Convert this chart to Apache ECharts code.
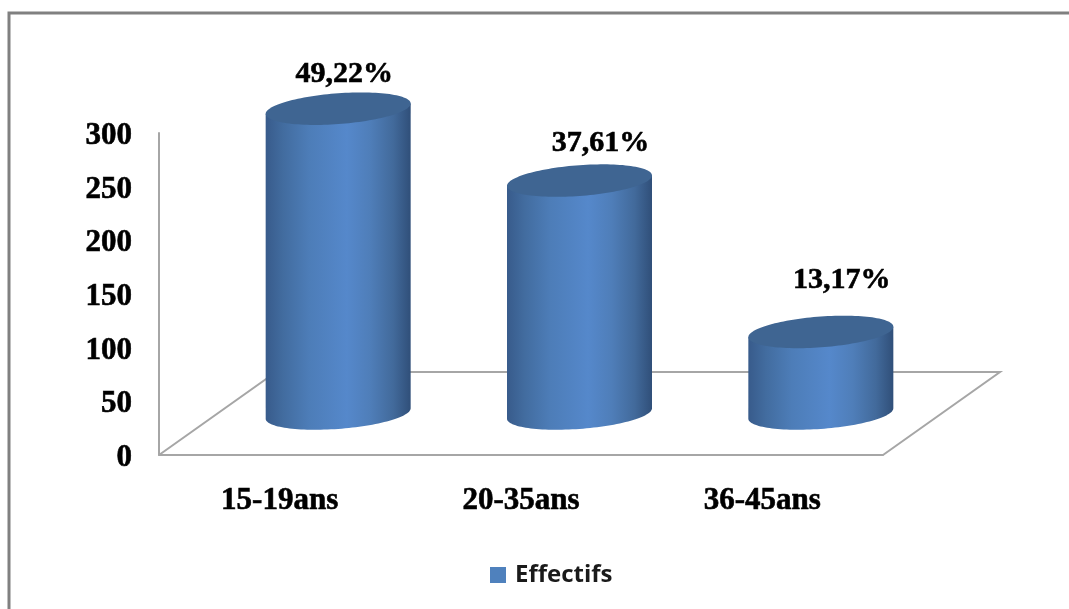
<!DOCTYPE html>
<html>
<head>
<meta charset="utf-8">
<style>html,body{margin:0;padding:0;background:#fff}#chart{width:1069px;height:609px}</style>
<script src="https://cdn.jsdelivr.net/npm/echarts@6/dist/echarts.min.js"></script>
</head>
<body>
<div id="chart"></div>
<script>
// Effectifs par tranche d'âge
const categories = ['15-19ans', '20-35ans', '36-45ans'];
const effectifs = [284, 217, 76];
const percentLabels = ['49,22%', '37,61%', '13,17%'];
const yTicks = { min: 0, max: 300, interval: 50 };

// Oblique projection of the floor: how far the back edge sits from the front edge
const DEPTH_X = 117, DEPTH_Y = -83;
// Cylinder ellipse: half width, half height, and slant of its long axis
const RX = 72.5, RY = 15.4, SLANT = 5.2;
// Hand-placed percentage labels, relative to the centre of each cylinder's top
const labelShift = [[6, -34], [21, -37], [21, -52]];

const serifBold = {
  fontFamily: 'Liberation Serif', fontWeight: 'bold', fontSize: 31, color: '#000',
  textBorderColor: '#000', textBorderWidth: 0.6
};

function ellipsePoint(cx, cy, t) {
  return [cx + RX * Math.cos(t), cy - SLANT * Math.cos(t) + RY * Math.sin(t)];
}

function renderFloor(params, api) {
  const a = api.coord([0, 0]);
  const left = params.coordSys.x;
  const right = left + params.coordSys.width;
  const y = a[1];
  return {
    type: 'polyline',
    shape: { points: [[left, y], [left + DEPTH_X, y + DEPTH_Y], [right + DEPTH_X, y + DEPTH_Y], [right, y]] },
    style: { stroke: '#a6a6a6', lineWidth: 2, fill: null },
    silent: true
  };
}

function renderCylinder(params, api) {
  const i = api.value(0);
  const base = api.coord([i, 0]);
  const top = api.coord([i, api.value(1)]);
  const cx = base[0] + DEPTH_X / 2;
  const by = base[1] + DEPTH_Y / 2;
  const ty = top[1] + DEPTH_Y / 2;

  const body = [ellipsePoint(cx, ty, Math.PI)];
  const steps = 64;
  for (let s = 0; s <= steps; s++) {
    body.push(ellipsePoint(cx, by, Math.PI * (1 - s / steps)));
  }
  body.push(ellipsePoint(cx, ty, 0));

  const cap = [];
  for (let s = 0; s < steps * 2; s++) {
    cap.push(ellipsePoint(cx, ty, Math.PI * s / steps));
  }

  const shift = labelShift[params.dataIndex];
  return {
    type: 'group',
    children: [
      {
        type: 'polygon',
        shape: { points: body },
        style: {
          fill: {
            type: 'linear', x: 0, y: 0, x2: 1, y2: 0,
            colorStops: [
              { offset: 0, color: '#385b8b' },
              { offset: 0.12, color: '#426c9f' },
              { offset: 0.3, color: '#4d7db8' },
              { offset: 0.56, color: '#5588cb' },
              { offset: 0.72, color: '#4f7eb9' },
              { offset: 0.88, color: '#426a9b' },
              { offset: 1, color: '#304f79' }
            ]
          }
        }
      },
      { type: 'polygon', shape: { points: cap }, style: { fill: '#3f6592' } },
      {
        type: 'text',
        style: {
          x: cx + shift[0],
          y: ty + shift[1],
          text: percentLabels[params.dataIndex],
          align: 'center',
          verticalAlign: 'middle',
          font: 'bold 30px "Liberation Serif"',
          fill: '#000',
          stroke: '#000',
          lineWidth: 0.6
        }
      }
    ]
  };
}

const chart = echarts.init(document.getElementById('chart'), null, { renderer: 'canvas' });
chart.setOption({
  animation: false,
  backgroundColor: '#fff',
  graphic: [
    // Outer frame: only its top and left edges fall inside the view
    { type: 'polyline', shape: { points: [[9, 609], [9, 13], [1069, 13]] }, style: { stroke: '#808080', lineWidth: 3, fill: null }, silent: true }
  ],
  legend: {
    left: 485, top: 558,
    data: [{ name: 'Effectifs', icon: 'rect', itemStyle: { color: '#4f81bd' } }],
    itemWidth: 16, itemHeight: 16,
    textStyle: { fontFamily: 'Open Sans', fontWeight: 'bold', fontSize: 24, color: '#1a1a1a', padding: [0, 0, 0, 4] }
  },
  grid: { left: 159, top: 133, width: 724, height: 322 },
  xAxis: {
    type: 'category',
    data: categories,
    axisLine: { lineStyle: { color: '#a6a6a6', width: 2 } },
    axisTick: { show: false },
    axisLabel: { ...serifBold, margin: 30 }
  },
  yAxis: {
    type: 'value',
    ...yTicks,
    axisLine: { show: true, lineStyle: { color: '#a6a6a6', width: 2 } },
    axisTick: { show: false },
    splitLine: { show: false },
    axisLabel: {
      margin: 27,
      formatter: '{tick|{value}}',
      // Extra room above the digits sits them slightly below the tick position
      rich: { tick: { ...serifBold, padding: [6, 0, 0, 0] } }
    }
  },
  series: [
    {
      type: 'custom',
      renderItem: renderFloor,
      data: [[0, 0]],
      silent: true,
      z: 1
    },
    {
      name: 'Effectifs',
      type: 'custom',
      renderItem: renderCylinder,
      data: effectifs.map((v, i) => [i, v]),
      encode: { x: 0, y: 1 },
      itemStyle: { color: '#4f81bd' },
      clip: false,
      z: 2
    }
  ]
});
</script>
</body>
</html>
